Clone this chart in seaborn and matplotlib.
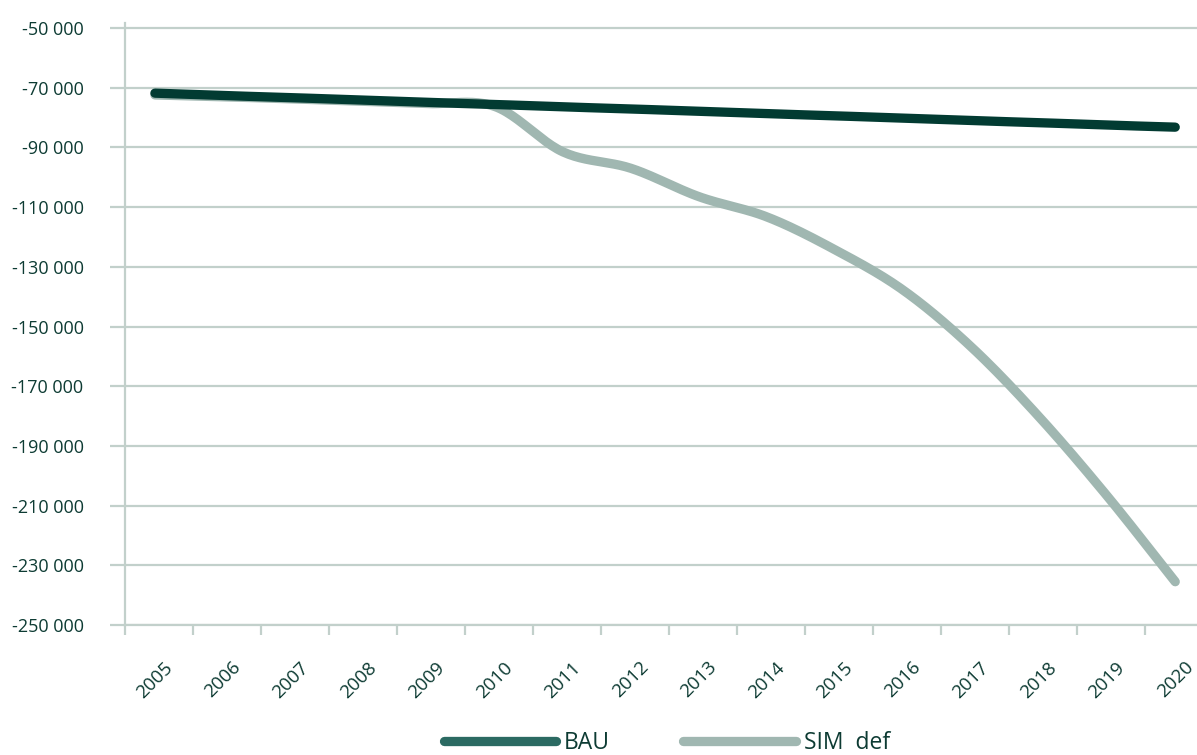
import numpy as np
import pandas as pd
import matplotlib
matplotlib.use("Agg")
import matplotlib.pyplot as plt
import seaborn as sns
from matplotlib.lines import Line2D
from matplotlib.ticker import FuncFormatter

# ---- data ----
years = [str(y) for y in range(2005, 2021)]
bau = [-71800, -72600, -73300, -74100, -74900, -75600, -76400, -77100,
       -77900, -78700, -79400, -80200, -81000, -81700, -82500, -83200]
sim_def = [-72400, -73000, -73700, -74500, -75300, -76300, -91500, -97000,
           -106500, -113300, -124300, -137800, -156800, -180300, -206800, -235500]
series_names = ["BAU", "SIM  def"]
y_ticks = list(range(-250000, -49999, 20000))

TEXT = "#0d3b33"
GRID = "#c2d0cb"
C_BAU = "#023b32"
C_BAU_LEG = "#2b6a62"
C_SIM = "#a0b7b1"


def smooth(vals, n=24):
    """Excel-style smoothed line (uniform Catmull-Rom through the points)."""
    p = np.asarray(vals, float)
    x = np.arange(len(p), dtype=float)
    pp = np.concatenate([[2 * p[0] - p[1]], p, [2 * p[-1] - p[-2]]])
    xs, ys = [], []
    for i in range(len(p) - 1):
        p0, p1, p2, p3 = pp[i], pp[i + 1], pp[i + 2], pp[i + 3]
        t = np.linspace(0, 1, n, endpoint=(i == len(p) - 2))
        y = 0.5 * ((2 * p1) + (-p0 + p2) * t + (2 * p0 - 5 * p1 + 4 * p2 - p3) * t ** 2
                   + (-p0 + 3 * p1 - 3 * p2 + p3) * t ** 3)
        xs.append(x[i] + t)
        ys.append(y)
    return np.concatenate(xs), np.concatenate(ys)


sns.set_theme(style="white")
plt.rcParams["font.family"] = ["Open Sans", "DejaVu Sans"]

fig = plt.figure(figsize=(11.97, 7.55), dpi=100)
ax = fig.add_axes([125 / 1197, 130 / 755, 1072 / 1197, 602 / 755])

frames = []
for name, vals in zip(series_names, [bau, sim_def]):
    xs, ys = smooth(vals)
    frames.append(pd.DataFrame({"x": xs, "value": ys, "series": name}))
df = pd.concat(frames, ignore_index=True)

lw = 6.7
sns.lineplot(data=df[df.series == "SIM  def"], x="x", y="value", color=C_SIM,
             linewidth=lw, solid_capstyle="round", sort=False, estimator=None,
             ax=ax, legend=False)
sns.lineplot(data=df[df.series == "BAU"], x="x", y="value", color=C_BAU,
             linewidth=lw, solid_capstyle="round", sort=False, estimator=None,
             ax=ax, legend=False)

ax.set_xlim(-0.44, 15.32)
ax.set_ylim(-250000, -48300)
ax.set_xlabel("")
ax.set_ylabel("")

ax.set_yticks(y_ticks)
ax.yaxis.set_major_formatter(FuncFormatter(lambda v, _: f"{v:,.0f}".replace(",", " ")))
ax.grid(axis="y", color=GRID, linewidth=1.6)
ax.grid(axis="x", visible=False)
ax.tick_params(axis="y", which="major", length=10.8, width=1.6, color=GRID,
               pad=19, labelsize=13, labelcolor=TEXT, left=True)

ax.set_xticks(range(len(years)))
ax.set_xticklabels(years, rotation=45, ha="center", va="top")
ax.tick_params(axis="x", which="major", length=0, pad=24, labelsize=13.5,
               labelcolor=TEXT)
ax.set_xticks(np.arange(len(years)) - 0.44, minor=True)
ax.tick_params(axis="x", which="minor", length=7, width=1.6, color=GRID,
               bottom=True, direction="out")

for s in ["top", "right"]:
    ax.spines[s].set_visible(False)
for s in ["left", "bottom"]:
    ax.spines[s].set_color(GRID)
    ax.spines[s].set_linewidth(1.6)

handles = [Line2D([0], [0], color=C_BAU_LEG, lw=lw, solid_capstyle="round"),
           Line2D([0], [0], color=C_SIM, lw=lw, solid_capstyle="round")]
fig.legend(handles, series_names, loc="center", bbox_to_anchor=(0.557, 0.016),
           ncol=2, frameon=False, fontsize=16.5, handlelength=4.9,
           handletextpad=0.35, columnspacing=3.2, labelcolor=TEXT)

fig.savefig("out.png", dpi=100)
